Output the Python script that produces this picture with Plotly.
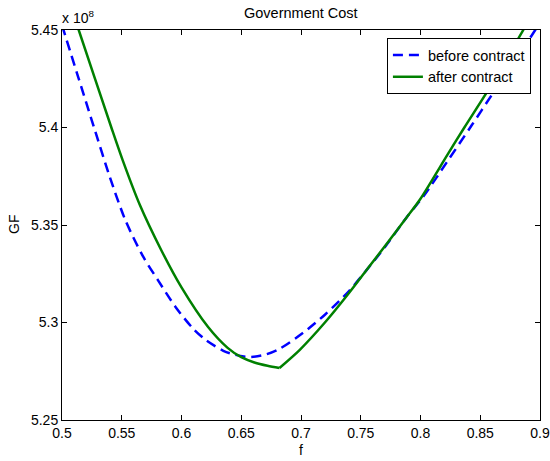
import plotly.graph_objects as go

before_f = [0.50, 0.5135, 0.5268, 0.5398, 0.553, 0.5677, 0.58, 0.595, 0.6095, 0.62, 0.635, 0.6445,
            0.657, 0.67, 0.682, 0.7015, 0.72, 0.74, 0.755, 0.77, 0.7885, 0.8028, 0.8218, 0.8427,
            0.86, 0.88, 0.896, 0.90]
before_gf = [5.4525, 5.426, 5.400, 5.375, 5.3525, 5.334, 5.322, 5.308, 5.297, 5.2912, 5.2855, 5.2835,
             5.2823, 5.2835, 5.2865, 5.2946, 5.304, 5.316, 5.327, 5.3385, 5.354, 5.365, 5.382, 5.401,
             5.417, 5.435, 5.45, 5.454]

after_f = [0.50, 0.514, 0.5413, 0.5509, 0.565, 0.583, 0.60, 0.6221, 0.6386, 0.65, 0.661, 0.672,
           0.682, 0.699, 0.72, 0.74, 0.755, 0.77, 0.7885, 0.80, 0.823, 0.8367, 0.86, 0.886, 0.90]
after_gf = [5.476, 5.45, 5.40, 5.383, 5.3605, 5.3372, 5.318, 5.2978, 5.2870, 5.2822, 5.2795, 5.2778,
            5.2767, 5.286, 5.300, 5.315, 5.327, 5.339, 5.354, 5.3635, 5.3865, 5.40, 5.4225, 5.45,
            5.465]

x_ticks = [0.5, 0.55, 0.6, 0.65, 0.7, 0.75, 0.8, 0.85, 0.9]
x_labels = ["0.5", "0.55", "0.6", "0.65", "0.7", "0.75", "0.8", "0.85", "0.9"]
y_ticks = [5.25, 5.30, 5.35, 5.40, 5.45]
y_labels = ["5.25", "5.3", "5.35", "5.4", "5.45"]

font = "Liberation Sans, Arial, Helvetica, sans-serif"

# split "after" curve at its kink (the minimum) so each side is smooth
k = after_gf.index(min(after_gf))

fig = go.Figure()
fig.add_trace(go.Scatter(x=before_f, y=before_gf, mode="lines", name="before contract",
                         line=dict(color="#0000ff", width=2.5, dash="10px,6px", shape="spline", smoothing=0.8)))
fig.add_trace(go.Scatter(x=after_f[:k + 1], y=after_gf[:k + 1], mode="lines", name="after contract",
                         legendgroup="after",
                         line=dict(color="#008000", width=2.5, shape="spline", smoothing=0.8)))
fig.add_trace(go.Scatter(x=after_f[k:], y=after_gf[k:], mode="lines", name="after contract",
                         legendgroup="after", showlegend=False,
                         line=dict(color="#008000", width=2.5, shape="spline", smoothing=0.8)))

axis_common = dict(showgrid=False, zeroline=False, showline=True, linecolor="black", linewidth=1,
                   mirror="ticks", ticks="inside", ticklen=5, tickcolor="black", automargin=False,
                   tickfont=dict(family=font, size=14, color="black"))

fig.update_layout(
    width=550, height=461,
    margin=dict(l=62, r=10, t=30, b=41),
    paper_bgcolor="white", plot_bgcolor="white",
    font=dict(family=font, color="black"),
    xaxis=dict(range=[0.5, 0.9], tickvals=x_ticks, ticktext=x_labels, **axis_common),
    yaxis=dict(range=[5.25, 5.45], tickvals=y_ticks, ticktext=y_labels, **axis_common),
    legend=dict(x=0.981, y=0.9795, xanchor="right", yanchor="top", bgcolor="white",
                bordercolor="black", borderwidth=1, font=dict(family=font, size=14.5),
                tracegroupgap=0),
    showlegend=True,
)
fig.add_annotation(text="Government Cost", xref="paper", yref="paper", x=0.5, y=1, xanchor="center",
                   yanchor="middle", yshift=17, showarrow=False,
                   font=dict(family=font, size=14.5, color="black"))
fig.add_annotation(text="x 10<sup>8</sup>", xref="paper", yref="paper", x=0, y=1, xanchor="left",
                   yanchor="bottom", showarrow=False, font=dict(family=font, size=14, color="black"),
                   xshift=-2, yshift=2)
fig.add_annotation(text="GF", xref="paper", yref="paper", x=0, y=0.5, xanchor="center",
                   yanchor="middle", textangle=-90, xshift=-48, showarrow=False,
                   font=dict(family=font, size=14, color="black"))
fig.add_annotation(text="f", xref="paper", yref="paper", x=0.5, y=0, xanchor="center",
                   yanchor="middle", yshift=-30, showarrow=False,
                   font=dict(family=font, size=14, color="black"))

fig.write_html("out.html", config={"displayModeBar": False},
               post_script="document.body.style.margin='0';")
